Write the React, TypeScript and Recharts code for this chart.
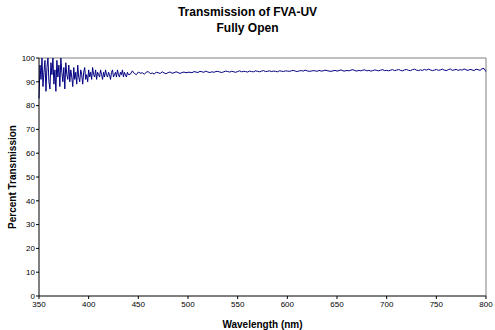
import { LineChart, Line, XAxis, YAxis, ReferenceLine } from 'recharts'

// Scan is recorded every 1 nm up to 440 nm, every 2 nm beyond that.
const FINE_START_NM = 350
const COARSE_START_NM = 442
const COARSE_STEP_NM = 2

// 350–380 nm: very noisy onset (1 nm)
const onsetT = [
  83, 97, 91, 100, 88, 94, 99, 86, 96, 100,
  90, 87, 98, 93, 100, 89, 95, 86, 99, 92,
  97, 88, 100, 94, 90, 96, 87, 98, 93, 91,
  97,
]

// 381–440 nm: noise settling (1 nm)
const settlingT = [
  90, 95, 92, 88, 96, 91, 94, 89, 97, 92,
  90, 95, 93, 89, 94, 96, 91, 93, 90, 95,
  92, 94, 91, 96, 93, 92, 95, 91, 94, 93,
  92, 95, 93, 91, 94, 92, 95, 93, 92, 94,
  93, 91, 94, 95, 92, 93, 94, 92, 95, 93,
  92, 94, 93, 95, 92, 94, 93, 92, 94, 93,
]

// 442–500 nm (2 nm)
const blueT = [
  93.2, 94.6, 93.5, 93.0, 94.1, 93.6, 93.8, 93.2, 94.0, 94.3,
  93.4, 93.7, 93.3, 94.0, 93.8, 93.5, 94.2, 93.7, 93.4, 93.9,
  94.1, 93.6, 93.8, 94.2, 93.9, 93.5, 93.9, 94.1, 93.8, 94.0,
]

// 502–600 nm (2 nm)
const greenT = [
  94.0, 93.8, 94.3, 94.1, 93.9, 94.4, 94.2, 94.0, 94.5, 94.1,
  93.9, 94.2, 94.0, 94.3, 94.4, 94.1, 93.9, 94.2, 94.5, 94.3,
  94.1, 94.4, 94.2, 94.0, 94.3, 94.6, 94.2, 94.4, 94.3, 94.1,
  94.5, 94.3, 94.2, 94.6, 94.4, 94.2, 94.5, 94.7, 94.3, 94.4,
  94.6, 94.3, 94.5, 94.4, 94.2, 94.6, 94.5, 94.3, 94.6, 94.5,
]

// 602–700 nm (2 nm)
const redT = [
  94.4, 94.6, 94.8, 94.5, 94.3, 94.6, 94.7, 94.5, 94.9, 94.6,
  94.4, 94.5, 94.7, 94.6, 94.4, 94.8, 94.5, 94.6, 94.9, 94.7,
  94.5, 94.4, 94.6, 94.8, 94.5, 94.7, 95.0, 94.6, 94.5, 94.8,
  94.6, 94.9, 95.1, 94.7, 94.5, 94.8, 94.6, 94.9, 95.0, 94.6,
  94.8, 94.5, 94.7, 95.0, 94.8, 94.6, 94.9, 95.1, 94.7, 94.8,
]

// 702–800 nm (2 nm)
const nirT = [
  94.6, 94.9, 95.1, 94.7, 94.9, 95.2, 94.8, 94.6, 95.0, 95.2,
  94.8, 94.7, 95.1, 95.3, 94.9, 94.7, 95.0, 94.8, 95.2, 94.9,
  95.3, 95.0, 94.7, 94.9, 95.2, 94.8, 95.0, 95.3, 94.9, 94.7,
  95.1, 95.4, 94.8, 95.0, 95.2, 94.8, 95.1, 94.9, 95.4, 95.0,
  94.8, 95.2, 95.0, 94.7, 95.3, 95.1, 94.8, 95.5, 95.6, 94.3,
]

const X_TICKS = [350, 400, 450, 500, 550, 600, 650, 700, 750, 800]
const Y_TICKS = [0, 10, 20, 30, 40, 50, 60, 70, 80, 90, 100]

const fine = [...onsetT, ...settlingT].map((t, i) => ({ nm: FINE_START_NM + i, t }))
const coarse = [...blueT, ...greenT, ...redT, ...nirT].map((t, i) => ({
  nm: COARSE_START_NM + i * COARSE_STEP_NM,
  t,
}))
const data = [...fine, ...coarse]

const FONT = 'Arial, "Liberation Sans", sans-serif'
const tickStyle = { fontSize: 8, fill: '#000', fontFamily: FONT }

const YLabel = (props: any) => {
  const { x, y, height } = props.viewBox
  const cx = x + 12
  const cy = y + height / 2
  return (
    <text
      x={cx}
      y={cy}
      transform={`rotate(-90 ${cx} ${cy})`}
      textAnchor="middle"
      dominantBaseline="central"
      fontSize={10}
      fontWeight="bold"
      fontFamily={FONT}
      fill="#000"
    >
      Percent Transmission
    </text>
  )
}

export default function App() {
  return (
    <div style={{ position: 'absolute', left: 0, top: 0, width: 495, height: 330, background: '#fff', fontFamily: FONT }}>
      <LineChart width={495} height={330} data={data} margin={{ top: 58, right: 9, bottom: 0, left: 0 }}>
        <XAxis
          dataKey="nm"
          type="number"
          domain={[350, 800]}
          ticks={X_TICKS}
          height={34}
          tick={tickStyle}
          tickSize={3}
          tickMargin={2}
          tickLine={{ stroke: '#000' }}
          axisLine={{ stroke: '#000' }}
          label={{ value: 'Wavelength (nm)', position: 'insideBottom', offset: 2, fontSize: 10, fontWeight: 'bold', fill: '#000', fontFamily: FONT }}
        />
        <YAxis
          type="number"
          domain={[0, 100]}
          ticks={Y_TICKS}
          allowDataOverflow
          width={39}
          tick={tickStyle}
          tickSize={3}
          tickMargin={1}
          tickLine={{ stroke: '#000' }}
          axisLine={{ stroke: '#000' }}
          label={{ content: YLabel }}
        />
        <ReferenceLine y={100} stroke="#808080" />
        <ReferenceLine x={800} stroke="#808080" />
        <Line type="linear" dataKey="t" stroke="#000080" strokeWidth={1} dot={false} isAnimationActive={false} />
      </LineChart>
      <div
        style={{
          position: 'absolute',
          top: 4,
          left: 0,
          width: 495,
          textAlign: 'center',
          fontWeight: 'bold',
          fontSize: 12,
          lineHeight: '16px',
          color: '#000',
        }}
      >
        Transmission of FVA-UV
        <br />
        Fully Open
      </div>
    </div>
  )
}
